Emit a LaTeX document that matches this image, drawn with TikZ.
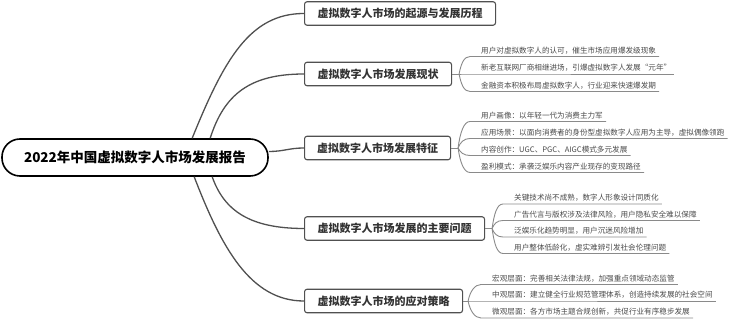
\documentclass[tikz,border=0pt]{standalone}
\usepackage{fontspec}
\setmainfont{Noto Sans CJK SC}
\usetikzlibrary{calc}
\definecolor{boxline}{HTML}{505050}
\definecolor{branchtext}{HTML}{333333}
\definecolor{mainline}{HTML}{505050}
\definecolor{leafline}{HTML}{8A8A8A}
\definecolor{leaftext}{HTML}{4A4A4A}
\newcommand\leafitem[5]{%
  \node[leaf] (#1) at (#3-3,#4) {#5};
  \coordinate (#1c) at (#3-11,#4);
  \draw[leafconn] (#2) .. controls ($(#2)!0.6!(#2 |- #1c) + (2,0)$) and +(-6,0) .. (#1c) -- (#1.south east);
}
\begin{document}
\begin{tikzpicture}[x=1pt,y=-1pt,
  rootbox/.style={draw=black, line width=1.6pt, rounded corners=18pt, minimum width=266pt, minimum height=37pt, inner sep=0pt, font=\fontsize{13.5}{15}\selectfont\bfseries},
  branchbox/.style={draw=boxline, line width=1.1pt, rounded corners=2.5pt, minimum height=23.5pt, anchor=west, inner sep=0pt, text=branchtext, font=\fontsize{11}{13}\selectfont\bfseries},
  leaf/.style={anchor=south west, inner xsep=3pt, inner ysep=1.5pt, text height=6pt, text depth=1.5pt, text=leaftext, font=\fontsize{7.6}{9}\selectfont},
  mainconn/.style={draw=mainline, line width=1.3pt},
  leafconn/.style={draw=leafline, line width=0.9pt},
]
\useasboundingbox (0,0) rectangle (732,320);

\node[rootbox] (root) at (135,157.5) {2022年中国虚拟数字人市场发展报告};

\node[branchbox, minimum width=191pt] (b1) at (304,13.5) {虚拟数字人市场的起源与发展历程};
\node[branchbox, minimum width=147pt] (b2) at (304,74) {虚拟数字人市场发展现状};
\node[branchbox, minimum width=146pt] (b3) at (304,148) {虚拟数字人市场发展特征};
\node[branchbox, minimum width=180pt] (b4) at (304,228.5) {虚拟数字人市场发展的主要问题};
\node[branchbox, minimum width=158pt] (b5) at (304,301) {虚拟数字人市场的应对策略};

\draw[mainconn] ($(root.north west)+(191,0)$) .. controls +(32,-79) and +(-54,0) .. (b1.west);
\draw[mainconn] ($(root.north west)+(209,0)$) .. controls +(14,-44) and +(-54,0) .. (b2.west);
\draw[mainconn] ($(root.east)+(0,-6)$) .. controls +(15,0) and +(-15,0) .. (b3.west);
\draw[mainconn] ($(root.south west)+(211,0)$) .. controls +(12,34) and +(-54,0) .. (b4.west);
\draw[mainconn] ($(root.south west)+(193,0)$) .. controls +(27,70) and +(-54,0) .. (b5.west);

\coordinate (o2) at ($(b2.east)+(7,0)$);
\coordinate (o3) at ($(b3.east)+(7,0)$);
\coordinate (o4) at ($(b4.east)+(7,0)$);
\coordinate (o5) at ($(b5.east)+(5,0)$);
\draw[leafconn] (b2.east) -- (o2);
\draw[leafconn] (b3.east) -- (o3);
\draw[leafconn] (b4.east) -- (o4);
\draw[leafconn] (b5.east) -- (o5);

\leafitem{l21}{o2}{481}{56.5}{用户对虚拟数字人的认可，催生市场应用爆发级现象}
\leafitem{l22}{o2}{481}{74}{新老互联网厂商相继进场，引爆虚拟数字人发展“元年”}
\leafitem{l23}{o2}{481}{91.5}{金融资本积极布局虚拟数字人，行业迎来快速爆发期}

\leafitem{l31}{o3}{481}{121.5}{用户画像：以年轻一代为消费主力军}
\leafitem{l32}{o3}{481}{138.5}{应用场景：以面向消费者的身份型虚拟数字人应用为主导，虚拟偶像领跑}
\leafitem{l33}{o3}{481}{155.5}{内容创作：UGC、PGC、AIGC模式多元发展}
\leafitem{l34}{o3}{481}{172.5}{盈利模式：承袭泛娱乐内容产业现存的变现路径}

\leafitem{l41}{o4}{514}{204}{关键技术尚不成熟，数字人形象设计同质化}
\leafitem{l42}{o4}{514}{220.5}{广告代言与版权涉及法律风险，用户隐私安全难以保障}
\leafitem{l43}{o4}{514}{237}{泛娱乐化趋势明显，用户沉迷风险增加}
\leafitem{l44}{o4}{514}{253.5}{用户整体低龄化，虚实难辨引发社会伦理问题}

\leafitem{l51}{o5}{492}{284.5}{宏观层面：完善相关法律法规，加强重点领域动态监管}
\leafitem{l52}{o5}{492}{301}{中观层面：建立健全行业规范管理体系，创造持续发展的社会空间}
\leafitem{l53}{o5}{492}{318}{微观层面：各方市场主题合规创新，共促行业有序稳步发展}
\end{tikzpicture}
\end{document}
